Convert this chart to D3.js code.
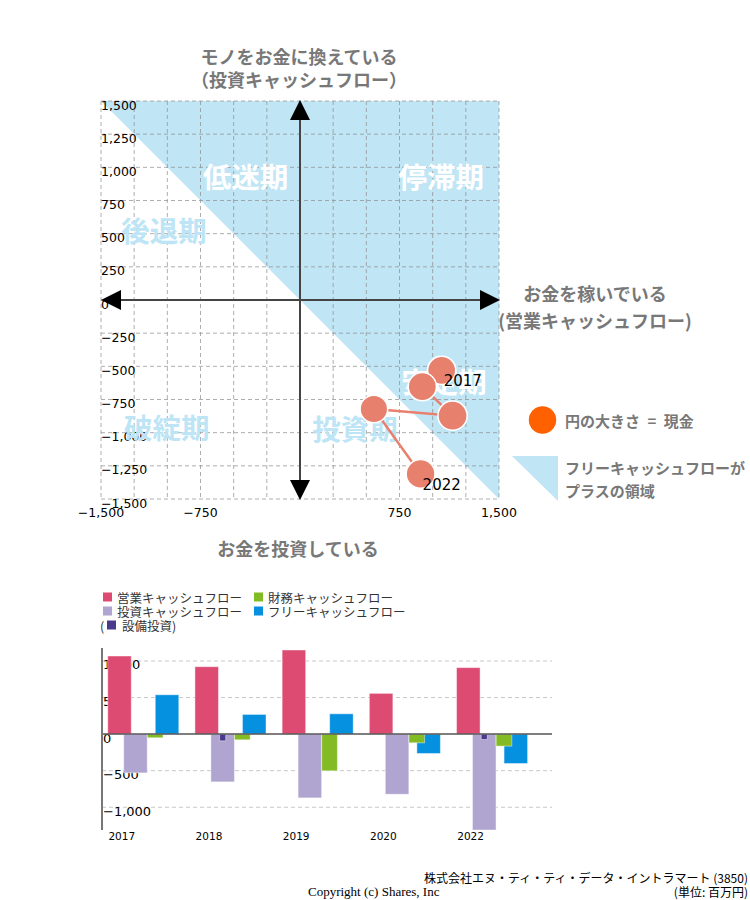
<!DOCTYPE html>
<html>
<head>
<meta charset="utf-8">
<script src="https://cdn.jsdelivr.net/npm/d3@7"></script>
<style>
  html, body { margin: 0; padding: 0; background: #fff; }
  svg { display: block; }
</style>
</head>
<body>
<svg id="chart" width="750" height="900"></svg>
<script>
// ---------------- data ----------------
const years = ["2017", "2018", "2019", "2020", "2022"];
const operatingCF = [1068, 922, 1150, 557, 909];
const investingCF = [-530, -653, -872, -822, -1311];
const financingCF = [-50, -78, -502, -119, -164];
const freeCF = [538, 269, 278, -265, -402];
const capex = [-5, -92, -5, -3, -73];
const cash = [2790, 2800, 3000, 2680, 2920];

const scatterTicks = [-1500, -1250, -1000, -750, -500, -250, 0, 250, 500, 750, 1000, 1250, 1500];
const scatterXLabels = [-1500, -750, 750, 1500];
const barTicks = [1000, 500, 0, -500, -1000];

const quadrantNames = ["低迷期", "停滞期", "後退期", "破綻期", "投資期", "安定期"];
const seriesNames = ["営業キャッシュフロー", "財務キャッシュフロー", "投資キャッシュフロー", "フリーキャッシュフロー", "設備投資"];

// ---------------- setup ----------------
const svg = d3.select("#chart");
const JP = "'Noto Sans CJK JP', 'Noto Sans', sans-serif";
const NUM = "'DejaVu Sans', sans-serif";
const fmt = d3.format(",");
const triColor = "#c0e6f6";
const lightLabel = "#bde5f6";
const grayTitle = "#787878";

// ---------------- scatter ----------------
const sx = d3.scaleLinear().domain([-1500, 1500]).range([101, 499]);
const sy = d3.scaleLinear().domain([-1500, 1500]).range([499, 101]);
const sr = d3.scaleSqrt().domain([0, d3.max(cash)]).range([0, 14.6]);

const sc = svg.append("g");

// FCF positive triangle region (x + y > 0)
sc.append("path")
  .attr("d", d3.line()([[sx(-1500), sy(1500)], [sx(1500), sy(1500)], [sx(1500), sy(-1500)]]) + "Z")
  .attr("fill", triColor);

// grid
sc.append("g").selectAll("line").data(scatterTicks).join("line")
  .attr("x1", d => sx(d)).attr("x2", d => sx(d))
  .attr("y1", sy(1500)).attr("y2", sy(-1500))
  .attr("stroke", "#8c8c8c").attr("stroke-opacity", 0.7)
  .attr("stroke-width", 1).attr("stroke-dasharray", "4,3");
sc.append("g").selectAll("line").data(scatterTicks).join("line")
  .attr("y1", d => sy(d)).attr("y2", d => sy(d))
  .attr("x1", sx(-1500)).attr("x2", sx(1500))
  .attr("stroke", "#8c8c8c").attr("stroke-opacity", 0.7)
  .attr("stroke-width", 1).attr("stroke-dasharray", "4,3");

// y tick labels
sc.append("g").selectAll("text").data(scatterTicks).join("text")
  .attr("x", sx(-1500)).attr("y", d => sy(d) + 8.5)
  .attr("font-family", NUM).attr("font-size", 12.5).attr("fill", "#000")
  .text(d => fmt(d));
// x tick labels
sc.append("g").selectAll("text").data(scatterXLabels).join("text")
  .attr("x", d => sx(d)).attr("y", sy(-1500) + 17.5)
  .attr("text-anchor", "middle")
  .attr("font-family", NUM).attr("font-size", 12.5).attr("fill", "#000")
  .text(d => fmt(d));

// quadrant labels
const quadPos = [
  { x: -410, y: 935, c: "#fff" },
  { x: 1065, y: 935, c: "#fff" },
  { x: -1025, y: 530, c: lightLabel },
  { x: -1005, y: -955, c: lightLabel },
  { x: 415, y: -960, c: lightLabel },
  { x: 1085, y: -605, c: "#fff" }
];
sc.append("g").selectAll("text").data(quadrantNames).join("text")
  .attr("x", (d, i) => sx(quadPos[i].x)).attr("y", (d, i) => sy(quadPos[i].y))
  .attr("text-anchor", "middle").attr("dominant-baseline", "central")
  .attr("font-family", JP).attr("font-weight", "bold").attr("font-size", 28.5)
  .attr("fill", (d, i) => quadPos[i].c)
  .text(d => d);

// axes with arrows
sc.append("line").attr("x1", sx(-1500) + 10).attr("x2", sx(1500) - 10)
  .attr("y1", sy(0)).attr("y2", sy(0)).attr("stroke", "#444").attr("stroke-width", 2);
sc.append("line").attr("y1", sy(1500) + 10).attr("y2", sy(-1500) - 10)
  .attr("x1", sx(0)).attr("x2", sx(0)).attr("stroke", "#444").attr("stroke-width", 2);
const ax0 = sx(0), ay0 = sy(0), aL = 20, aW = 10;
const arrows = [
  [[sx(1500) + 1, ay0], [sx(1500) + 1 - aL, ay0 - aW], [sx(1500) + 1 - aL, ay0 + aW]],
  [[sx(-1500), ay0], [sx(-1500) + aL, ay0 - aW], [sx(-1500) + aL, ay0 + aW]],
  [[ax0, sy(1500) - 1], [ax0 - aW, sy(1500) - 1 + aL], [ax0 + aW, sy(1500) - 1 + aL]],
  [[ax0, sy(-1500) + 1], [ax0 - aW, sy(-1500) + 1 - aL], [ax0 + aW, sy(-1500) + 1 - aL]]
];
sc.append("g").selectAll("path").data(arrows).join("path")
  .attr("d", d => d3.line()(d) + "Z").attr("fill", "#000");

// trajectory
const pts = years.map((y, i) => ({ year: y, x: operatingCF[i], y: investingCF[i], r: sr(cash[i]) }));
sc.append("path")
  .attr("d", d3.line().x(d => sx(d.x)).y(d => sy(d.y))(pts))
  .attr("fill", "none").attr("stroke", "#e8806e").attr("stroke-width", 2.5);
sc.append("g").selectAll("circle").data(pts).join("circle")
  .attr("cx", d => sx(d.x)).attr("cy", d => sy(d.y)).attr("r", d => d.r)
  .attr("fill", "#e8806e").attr("stroke", "#fff").attr("stroke-width", 1.5);
sc.append("g").selectAll("text").data([pts[0], pts[pts.length - 1]]).join("text")
  .attr("x", d => sx(d.x) + 2).attr("y", d => sy(d.y) + 11)
  .attr("dominant-baseline", "central")
  .attr("font-family", NUM).attr("font-size", 15).attr("fill", "#000")
  .text(d => d.year);

// titles
function title(lines, x, y0, dy) {
  svg.append("g").selectAll("text").data(lines).join("text")
    .attr("x", x).attr("y", (d, i) => y0 + i * dy)
    .attr("text-anchor", "middle").attr("dominant-baseline", "central")
    .attr("font-family", JP).attr("font-weight", "bold").attr("font-size", 18)
    .attr("fill", grayTitle).text(d => d);
}
title(["モノをお金に換えている", "（投資キャッシュフロー）"], 299, 55.5, 23);
title(["お金を稼いでいる", "(営業キャッシュフロー)"], 595, 293, 27);
title(["お金を投資している"], 298, 548, 0);

// scatter legend
svg.append("circle").attr("cx", 542.5).attr("cy", 420).attr("r", 13.7).attr("fill", "#ff6000");
svg.append("text").attr("x", 565).attr("y", 420).attr("dominant-baseline", "central")
  .attr("font-family", JP).attr("font-weight", "bold").attr("font-size", 15)
  .attr("fill", grayTitle).text("円の大きさ\u2002=\u2002現金");
svg.append("path").attr("d", "M512,456L558,456L558,501Z").attr("fill", triColor);
svg.append("g").selectAll("text").data(["フリーキャッシュフローが", "プラスの領域"]).join("text")
  .attr("x", 565).attr("y", (d, i) => 467 + i * 23.5).attr("dominant-baseline", "central")
  .attr("font-family", JP).attr("font-weight", "bold").attr("font-size", 15)
  .attr("fill", grayTitle).text(d => d);

// ---------------- bar chart ----------------
const allVals = [].concat(operatingCF, investingCF, financingCF, freeCF, capex);
const by = d3.scaleLinear().domain([d3.min(allVals), d3.max(allVals)]).range([830, 650]);
const bx = d3.scaleBand().domain(years).range([102.5, 538.5]).padding(0);
const step = bx.step();

const bg = svg.append("g");
svg.append("defs").append("clipPath").attr("id", "barclip")
  .append("rect").attr("x", 102).attr("y", 650).attr("width", 450).attr("height", 180);

// gridlines
bg.append("g").selectAll("line").data(barTicks.filter(d => d !== 0)).join("line")
  .attr("x1", 102).attr("x2", 552).attr("y1", d => by(d)).attr("y2", d => by(d))
  .attr("stroke", "#c8c8c8").attr("stroke-dasharray", "4,3");
// tick labels (behind bars)
bg.append("g").selectAll("text").data(barTicks).join("text")
  .attr("x", 103).attr("y", d => by(d) + 8.5)
  .attr("font-family", NUM).attr("font-size", 13).attr("fill", "#000")
  .text(d => fmt(d));

const bars = bg.append("g").attr("clip-path", "url(#barclip)");
const series = [
  { vals: operatingCF, color: "#dd4a72", off: 0.06, w: 0.27 },
  { vals: investingCF, color: "#b0a4d0", off: 0.243, w: 0.27 },
  { vals: freeCF, color: "#0590e0", off: 0.605, w: 0.27 },
  { vals: financingCF, color: "#82bb24", off: 0.514, w: 0.18 },
  { vals: capex, color: "#4a3a8c", off: 0.343, w: 0.07 }
];
series.forEach(s => {
  bars.append("g").selectAll("rect").data(years).join("rect")
    .attr("x", (d) => bx(d) + s.off * step)
    .attr("width", s.w * step)
    .attr("y", (d, i) => Math.min(by(0), by(s.vals[i])))
    .attr("height", (d, i) => Math.abs(by(s.vals[i]) - by(0)))
    .attr("fill", s.color)
    .attr("stroke", "#fff").attr("stroke-opacity", 0.45).attr("stroke-width", 1);
});

// zero line and y axis
bg.append("line").attr("x1", 102).attr("x2", 552).attr("y1", by(0)).attr("y2", by(0))
  .attr("stroke", "#555").attr("stroke-width", 1.5);
bg.append("line").attr("x1", 102).attr("x2", 102).attr("y1", 648).attr("y2", 830)
  .attr("stroke", "#777").attr("stroke-width", 2);

// x labels
bg.append("g").selectAll("text").data(years).join("text")
  .attr("x", d => bx(d) + 0.221 * step).attr("y", 836)
  .attr("text-anchor", "middle").attr("dominant-baseline", "central")
  .attr("font-family", NUM).attr("font-size", 10.5).attr("fill", "#000")
  .text(d => d);

// bar legend
const leg = svg.append("g").attr("font-family", JP).attr("font-size", 12.5).attr("fill", "#333");
const legItems = [
  { name: seriesNames[0], color: "#dd4a72", x: 103, y: 597 },
  { name: seriesNames[1], color: "#82bb24", x: 254, y: 597 },
  { name: seriesNames[2], color: "#b0a4d0", x: 103, y: 611 },
  { name: seriesNames[3], color: "#0590e0", x: 254, y: 611 }
];
legItems.forEach(it => {
  leg.append("rect").attr("x", it.x).attr("y", it.y - 4.5).attr("width", 9).attr("height", 9).attr("fill", it.color);
  leg.append("text").attr("x", it.x + 14).attr("y", it.y).attr("dominant-baseline", "central").text(it.name);
});
leg.append("text").attr("x", 100).attr("y", 625).attr("dominant-baseline", "central").text("(");
leg.append("rect").attr("x", 107).attr("y", 620.5).attr("width", 9).attr("height", 9).attr("fill", "#4a3a8c");
leg.append("text").attr("x", 122).attr("y", 625).attr("dominant-baseline", "central").text(seriesNames[4] + ")");

// footer
svg.append("text").attr("x", 748).attr("y", 877).attr("text-anchor", "end").attr("dominant-baseline", "central")
  .attr("font-family", JP).attr("font-size", 12).attr("fill", "#000")
  .text("株式会社エヌ・ティ・ティ・データ・イントラマート (3850)");
svg.append("text").attr("x", 748).attr("y", 891.5).attr("text-anchor", "end").attr("dominant-baseline", "central")
  .attr("font-family", JP).attr("font-size", 12).attr("fill", "#000")
  .text("(単位: 百万円)");
svg.append("text").attr("x", 308).attr("y", 891).attr("dominant-baseline", "central")
  .attr("font-family", "'Liberation Serif', 'Times New Roman', serif").attr("font-size", 13).attr("fill", "#000")
  .text("Copyright (c) Shares, Inc");
</script>
</body>
</html>
